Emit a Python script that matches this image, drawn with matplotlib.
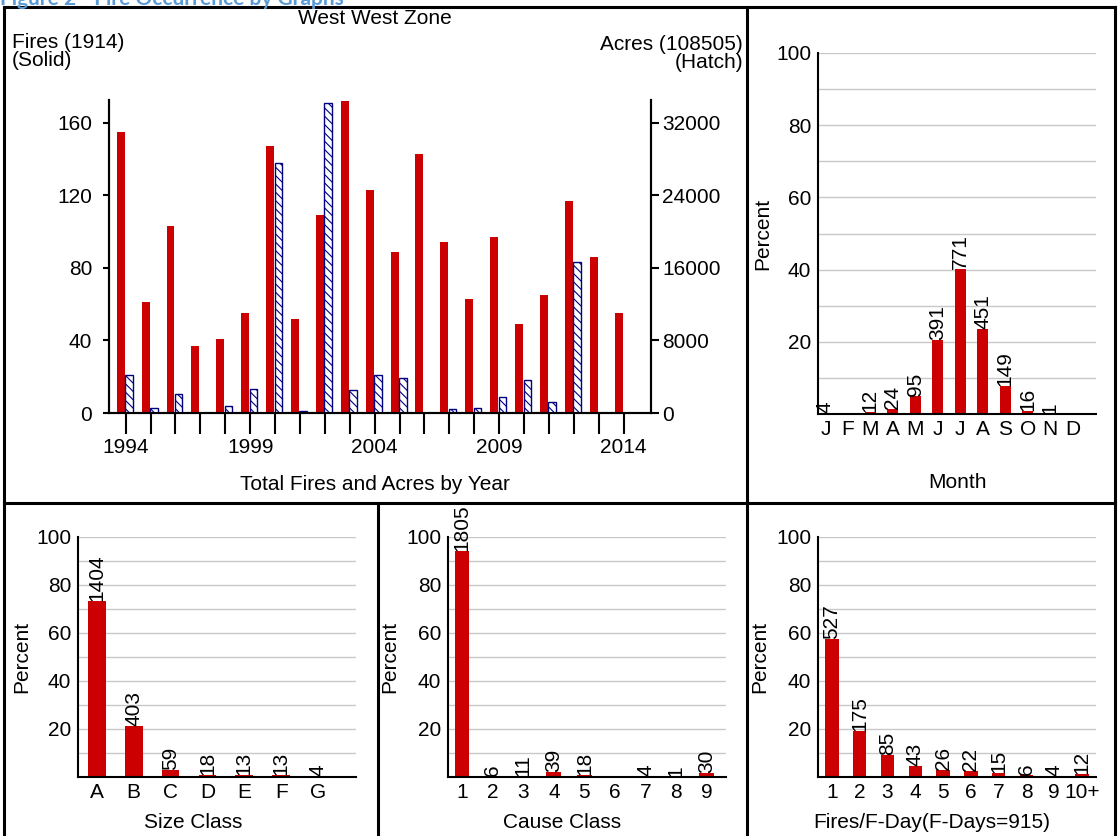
import matplotlib
matplotlib.use('Agg')
import numpy as np
import matplotlib.pyplot as plt
from matplotlib.lines import Line2D

plt.rcParams['font.family'] = ['Liberation Sans', 'DejaVu Sans']
plt.rcParams['hatch.linewidth'] = 0.8

# ---- data ----
years = list(range(1994, 2015))
fires = [155, 61, 103, 37, 41, 55, 147, 52, 109, 172, 123,
         89, 143, 94, 63, 97, 49, 65, 117, 86, 55]
acres = [4200, 580, 2100, 0, 730, 2700, 27600, 250, 34200, 2550, 4200,
         3900, 0, 440, 580, 1780, 3600, 1200, 16600, 0, 0]
year_labels = [1994, 1999, 2004, 2009, 2014]
total_fires = 1914
total_acres = 108505

months = ['J', 'F', 'M', 'A', 'M', 'J', 'J', 'A', 'S', 'O', 'N', 'D']
month_counts = [4, 0, 12, 24, 95, 391, 771, 451, 149, 16, 1, 0]

size_classes = ['A', 'B', 'C', 'D', 'E', 'F', 'G']
size_counts = [1404, 403, 59, 18, 13, 13, 4]

cause_classes = ['1', '2', '3', '4', '5', '6', '7', '8', '9']
cause_counts = [1805, 6, 11, 39, 18, 0, 4, 1, 30]

fday_classes = ['1', '2', '3', '4', '5', '6', '7', '8', '9', '10+']
fday_counts = [527, 175, 85, 43, 26, 22, 15, 6, 4, 12]
fire_days = 915

RED = '#cc0000'
NAVY = '#000080'
FS = 15

W, H = 1118, 836
fig = plt.figure(figsize=(W / 100, H / 100), dpi=100)


def px_axes(left, top, right, bottom):
    return fig.add_axes([left / W, 1 - bottom / H, (right - left) / W, (bottom - top) / H])


def px_text(x, y, s, **kw):
    fig.text(x / W, 1 - y / H, s, **kw)


# ---- main chart: fires and acres by year ----
ax = px_axes(109, 100, 651, 413)
x = np.array(years, dtype=float)
ax.bar(x - 0.2, fires, width=0.32, color=RED)
ax2 = ax.twinx()
ax2.bar(x + 0.13, acres, width=0.3, color='white', edgecolor=NAVY,
        linewidth=1, hatch='\\\\\\\\')
ax.set_xlim(1993.33, 2015.1)
ax.set_ylim(0, 172.5)
ax2.set_ylim(0, 34500)
ax.set_yticks([0, 40, 80, 120, 160])
ax2.set_yticks([0, 8000, 16000, 24000, 32000])
ax.set_xticks(years)
ax.set_xticklabels([str(y) if y in year_labels else '' for y in years])
ax.tick_params(axis='x', length=15, width=1.5, pad=3, labelsize=FS)
ax.tick_params(axis='y', length=4, width=1.5, pad=8, labelsize=FS)
ax2.tick_params(axis='y', length=6, width=1.5, pad=2, labelsize=FS)
for a in (ax, ax2):
    a.spines['top'].set_visible(False)
    for s in ('left', 'right', 'bottom'):
        a.spines[s].set_linewidth(1.5)

px_text(375, 9, 'West West Zone', ha='center', va='top', fontsize=FS)
px_text(12, 33, 'Fires (%d)\n(Solid)' % total_fires, ha='left', va='top',
        fontsize=FS, linespacing=0.95)
px_text(743, 35, 'Acres (%d)\n(Hatch)' % total_acres, ha='right', va='top',
        fontsize=FS, linespacing=0.95, multialignment='right')
px_text(375, 485, 'Total Fires and Acres by Year', ha='center', va='center', fontsize=FS)


# ---- percent panels ----
def percent_panel(rect, cats, counts, ylabel_x, xlim):
    a = px_axes(*rect)
    total = sum(counts)
    pct = [c / total * 100 for c in counts]
    pos = np.arange(len(cats))
    for g in range(10, 101, 10):
        a.axhline(g, color='#c8c8c8', lw=1, zorder=0)
    a.bar(pos, pct, width=0.48, color=RED, zorder=2)
    for p, v, c in zip(pos, pct, counts):
        if c > 0:
            a.text(p, v, str(c), rotation=90, ha='center', va='bottom',
                   fontsize=FS, clip_on=False, zorder=3)
    a.set_ylim(0, 100)
    a.set_xlim(*xlim)
    a.set_yticks([20, 40, 60, 80, 100])
    a.set_xticks(pos)
    a.set_xticklabels(cats)
    a.tick_params(axis='both', length=0, labelsize=FS)
    a.tick_params(axis='y', pad=5)
    a.tick_params(axis='x', pad=4)
    a.spines['top'].set_visible(False)
    a.spines['right'].set_visible(False)
    a.spines['left'].set_linewidth(1.5)
    a.spines['bottom'].set_linewidth(1.5)
    top, bottom = rect[1], rect[3]
    px_text(ylabel_x, (top + bottom) / 2, 'Percent', rotation=90,
            ha='center', va='center', fontsize=FS)
    return a


percent_panel((818, 53, 1096, 414), months, month_counts, 763, (-0.33, 12.04))
px_text(957, 483, 'Month', ha='center', va='center', fontsize=FS)

percent_panel((78, 537, 356, 777), size_classes, size_counts, 22, (-0.51, 7.03))
px_text(193, 822, 'Size Class', ha='center', va='center', fontsize=FS)

percent_panel((448, 537, 726, 777), cause_classes, cause_counts, 390, (-0.46, 8.63))
px_text(562, 822, 'Cause Class', ha='center', va='center', fontsize=FS)

percent_panel((818, 537, 1096, 777), fday_classes, fday_counts, 760, (-0.5, 9.5))
px_text(932, 822, 'Fires/F-Day(F-Days=%d)' % fire_days, ha='center', va='center', fontsize=FS)


# ---- panel frame ----
def frame_line(x0, y0, x1, y1):
    fig.add_artist(Line2D([x0 / W, x1 / W], [1 - y0 / H, 1 - y1 / H],
                          color='black', lw=2.2, transform=fig.transFigure))


frame_line(4, 7, 1115, 7)
frame_line(4, 7, 4, 836)
frame_line(1115, 7, 1115, 836)
frame_line(4, 503, 1115, 503)
frame_line(747, 7, 747, 836)
frame_line(378, 503, 378, 836)

# heading that the reference shows cut off at the top edge
px_text(0, 5, 'Figure 2 - Fire Occurrence by Graphs', ha='left', va='baseline',
        fontsize=15, fontweight='bold', color='#5b9bd5', family='Lato')

fig.savefig('out.png', dpi=100)
